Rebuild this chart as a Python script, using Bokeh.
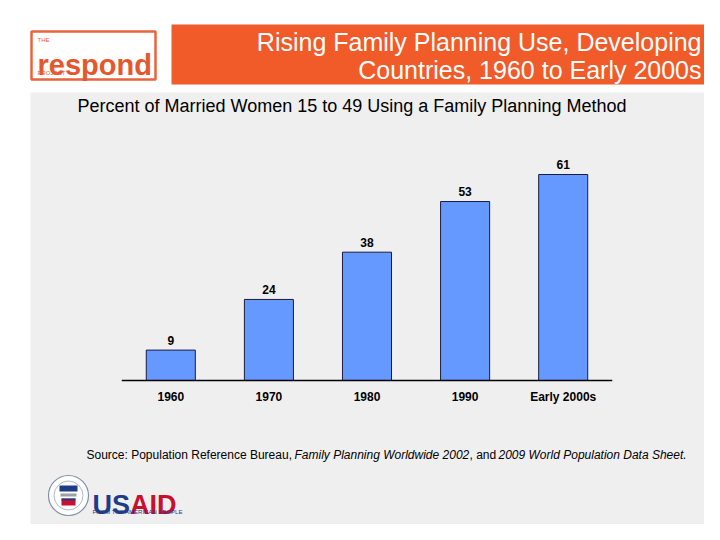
from bokeh.plotting import figure
from bokeh.models import Range1d, ColumnDataSource
from bokeh.core.properties import value
from bokeh.embed import file_html
from bokeh.resources import INLINE

# ---------------- data ----------------
CATEGORIES = ["1960", "1970", "1980", "1990", "Early 2000s"]
VALUES = [9, 24, 38, 53, 61]
TITLE_LINES = ["Rising Family Planning Use, Developing", "Countries, 1960 to Early 2000s"]
SUBTITLE = "Percent of Married Women 15 to  49 Using a Family Planning Method"
SOURCE_PARTS = ["Source: Population Reference Bureau,", "Family Planning Worldwide 2002",
                ", and", "2009 World Population Data Sheet."]

# ---------------- page geometry (picture pixel coordinates) ----------------
W, H = 704, 524
X0, X1 = 0, W
Y0, Y1 = 0, H

FONT = value("Liberation Sans")
ORANGE = "#F15A29"

p = figure(width=W, height=H, x_range=Range1d(X0, X1), y_range=Range1d(Y1, Y0),
           output_backend="svg", toolbar_location=None,
           x_axis_location=None, y_axis_location=None, min_border=0)
p.outline_line_color = None
p.grid.grid_line_color = None
p.background_fill_color = "white"
p.border_fill_color = "white"

# chart scales: category slots and percent axis mapped into the page
SLOT_PX, FIRST_CENTER_PX = 98.1, 170.3
BASE_PX, PX_PER_PCT = 380.0, 3.377
p.extra_x_ranges = {"cat": Range1d((X0 - FIRST_CENTER_PX) / SLOT_PX, (X1 - FIRST_CENTER_PX) / SLOT_PX)}
p.extra_y_ranges = {"pct": Range1d(-(Y1 - BASE_PX) / PX_PER_PCT, (BASE_PX - Y0) / PX_PER_PCT)}

# body background
p.quad(left=[30], right=[X1], top=[92], bottom=[Y1], fill_color="#EFEFEF", line_color=None)

# header orange banner
p.quad(left=[171], right=[X1], top=[24], bottom=[84], fill_color=ORANGE, line_color=None)
p.text(x=[701, 701], y=[41, 69], text=TITLE_LINES, text_font=FONT, text_font_size="25px",
       text_color="white", text_align="right", text_baseline="middle")

# respond logo
p.quad(left=[31], right=[155], top=[31], bottom=[79], fill_color="white",
       line_color="#E8643C", line_width=2.5)
p.text(x=[37], y=[39], text=["THE"], text_font=FONT, text_font_size="6px",
       text_color="#E8643C", text_baseline="middle")
p.text(x=[37], y=[64], text=["respond"], text_font=FONT, text_font_size="29px",
       text_font_style="bold", text_color="#E4582E", text_baseline="alphabetic")
p.text(x=[37], y=[72.5], text=["PROJECT"], text_font=FONT, text_font_size="6px",
       text_color="#E8643C", text_baseline="middle")

# subtitle
p.text(x=[77], y=[105], text=[SUBTITLE], text_font=FONT, text_font_size="18px",
       text_color="black", text_baseline="middle")

# bars
idx = list(range(len(CATEGORIES)))
src = ColumnDataSource(dict(x=idx, top=VALUES, cat=CATEGORIES, lab=[str(v) for v in VALUES]))
p.vbar(x="x", top="top", bottom=0, width=0.5, source=src, fill_color="#6699FF",
       line_color="#1B1B40", line_width=1, x_range_name="cat", y_range_name="pct")
p.segment(x0=[-0.5], x1=[len(CATEGORIES) - 0.5], y0=[0], y1=[0], line_color="black",
          line_width=1.3, x_range_name="cat", y_range_name="pct")
p.text(x="x", y="top", text="lab", source=src, text_font=FONT, text_font_size="12px",
       text_font_style="bold", text_color="black", text_align="center",
       text_baseline="middle", y_offset=-10, x_range_name="cat", y_range_name="pct")
p.text(x="x", y=0, text="cat", source=src, text_font=FONT, text_font_size="12px",
       text_font_style="bold", text_color="black", text_align="center",
       text_baseline="middle", y_offset=16, x_range_name="cat", y_range_name="pct")

# source line
src_x = [86, 294, 469, 498]
src_style = ["normal", "italic", "normal", "italic"]
for xx, t, st in zip(src_x, SOURCE_PARTS, src_style):
    p.text(x=[xx], y=[454], text=[t], text_font=FONT, text_font_size="12px",
           text_font_style=st, text_color="black", text_baseline="middle")

# USAID logo
p.circle(x=[68], y=[495], radius=20, fill_color="white", line_color="#7F8FA8", line_width=1.2)
p.circle(x=[68], y=[495], radius=14.5, fill_color="white", line_color="#9AA6B8", line_width=0.8)
p.quad(left=[59], right=[77], top=[485], bottom=[491], fill_color="#1F3C88", line_color=None)
p.quad(left=[60], right=[76], top=[493], bottom=[496], fill_color="#9AA0A8", line_color=None)
p.quad(left=[61], right=[75], top=[498], bottom=[505], fill_color="#C8102E", line_color=None)
p.quad(left=[61], right=[75], top=[498], bottom=[500], fill_color="#1F3C88", line_color=None)
p.text(x=[92], y=[504], text=["US"], text_font=FONT, text_font_size="27px",
       text_font_style="bold", text_color="#1F3C88", text_baseline="alphabetic")
p.text(x=[129.5], y=[504], text=["AID"], text_font=FONT, text_font_size="27px",
       text_font_style="bold", text_color="#C8102E", text_baseline="alphabetic")
p.text(x=[92], y=[511.5], text=["FROM THE AMERICAN PEOPLE"], text_font=FONT,
       text_font_size="6px", text_color="#1F3C88", text_baseline="middle")

open("out.html", "w").write(file_html(p, INLINE))
